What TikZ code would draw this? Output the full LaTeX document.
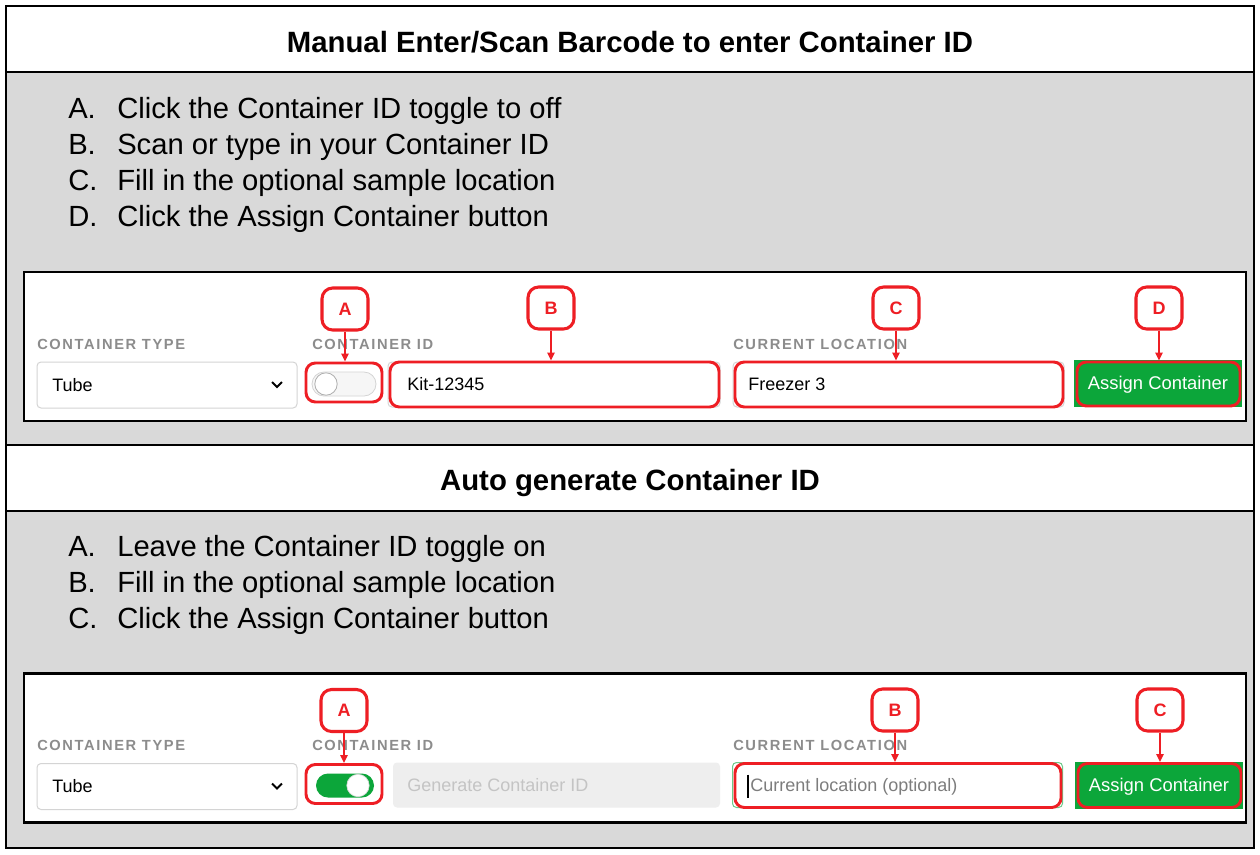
\documentclass[tikz,border=0pt]{standalone}
\usepackage{fontspec}
\setmainfont{Liberation Sans}
\usetikzlibrary{arrows.meta,fit}
\definecolor{secgray}{HTML}{D9D9D9}
\definecolor{hlred}{RGB}{238,30,36}
\definecolor{btngreen}{RGB}{12,166,58}
\definecolor{lblgray}{RGB}{140,140,140}
\definecolor{fieldline}{RGB}{212,212,212}
\definecolor{fieldfill}{RGB}{238,238,238}
\definecolor{phgray}{RGB}{196,196,196}
\definecolor{phtext}{RGB}{125,125,125}
\definecolor{toggleoff}{RGB}{246,246,246}
\begin{document}
\begin{tikzpicture}[x=0.75pt,y=-0.75pt,
  titletext/.style={font=\fontsize{22}{26}\selectfont\bfseries, anchor=base, inner sep=0},
  itemtext/.style={font=\fontsize{21.9}{26}\selectfont, anchor=base west, inner sep=0},
  lbltext/.style={font=\fontsize{11}{13}\selectfont\bfseries\addfontfeature{LetterSpace=11}, text=lblgray, anchor=base west, inner sep=0},
  fieldbox/.style={draw=fieldline, line width=0.75pt, rounded corners=3pt, fill=white, inner sep=0},
  ftext/.style={font=\fontsize{13.5}{16}\selectfont, anchor=base west, inner sep=0},
  hl/.style={draw=hlred, line width=2.2pt, rounded corners=7pt, inner sep=0},
  bub/.style={draw=hlred, line width=2.3pt, fill=white, rounded corners=8pt, minimum width=34.5pt, minimum height=31.5pt, inner sep=0, text=hlred, font=\fontsize{13.5}{16}\selectfont\bfseries},
  arr/.style={draw=hlred, line width=1.4pt, -{Triangle[length=6pt,width=5.5pt]}},
  btnbox/.style={fill=btngreen, minimum width=126pt, minimum height=35.25pt, inner sep=0},
  btntext/.style={text=white, font=\fontsize{13.8}{16}\selectfont, anchor=base, inner sep=0},
  shot/.style={draw=black, line width=1.6pt, fill=white}]
\useasboundingbox (0,0) rectangle (1260,854);
% sections
\fill[white] (6,6) rectangle (1254,72);
\fill[secgray] (6,72) rectangle (1254,445);
\fill[white] (6,445) rectangle (1254,511);
\fill[secgray] (6,511) rectangle (1254,848);
\draw[line width=1.6pt] (6,72) -- (1254,72) (6,445) -- (1254,445) (6,511) -- (1254,511);
\draw[line width=1.6pt] (6,6) rectangle (1254,848);
% titles
\node[titletext] (t1) at (630,52) {Manual Enter/Scan Barcode to enter Container ID};
\node[titletext] (t2) at (630,490) {Auto generate Container ID};
% list 1
\foreach \l/\t [count=\i] in {A/Click the Container ID toggle to off, B/Scan or type in your Container ID, C/Fill in the optional sample location, D/Click the Assign Container button}{
  \node[itemtext] (la\i) at (68,118+36*\i-36) {\l.};
  \node[itemtext] (ia\i) at (117,118+36*\i-36) {\t};
}
% list 2
\foreach \l/\t [count=\i] in {A/Leave the Container ID toggle on, B/Fill in the optional sample location, C/Click the Assign Container button}{
  \node[itemtext] (lb\i) at (68,556+36*\i-36) {\l.};
  \node[itemtext] (ib\i) at (117,556+36*\i-36) {\t};
}
% ===== screenshot 1 =====
\draw[shot] (24,272) rectangle (1246,421);
\node[lbltext] (ct1) at (37,349) {CONTAINER TYPE};
\node[lbltext] (ci1) at (312,349) {CONTAINER ID};
\node[lbltext] (cl1) at (733,349) {CURRENT LOCATION};
\node[fieldbox, minimum width=195pt, minimum height=34.5pt] (dd1) at (167,385) {};
\node[ftext] (tube1) at (52,391) {Tube};
\draw[line width=1.4pt] (272,382) -- (277,387) -- (282,382);
% toggle off
\draw[fill=toggleoff, draw=fieldline, line width=0.6pt, rounded corners=9pt] (312,372) rectangle (376,396);
\draw[fill=white, draw=lblgray!70, line width=0.6pt] (326,384) circle[radius=8.4pt];
\node[hl, fit={(306,363) (382,402)}] (hA1) {};
% field B
\node[fieldbox, minimum width=249pt, minimum height=33.75pt] (fb1) at (554,384.5) {};
\node[ftext] (kit) at (407,390) {Kit-12345};
\node[hl, fit={(390,362) (719,407)}] (hB1) {};
% field C
\node[fieldbox, minimum width=248.25pt, minimum height=33.75pt] (fc1) at (898.5,384.5) {};
\node[ftext] (frz) at (748,390) {Freezer 3};
\node[hl, fit={(735,362) (1063,407)}] (hC1) {};
% button
\node[btnbox] (btn1) at (1158,383.5) {};
\node[btntext] (bt1) at (1158,389.5) {Assign Container};
\node[hl, fit={(1077,362) (1240,406)}] (hD1) {};
% bubbles
\node[bub] (bA1) at (345,309) {A};
\node[bub] (bB1) at (551,308) {B};
\node[bub] (bC1) at (896,308) {C};
\node[bub] (bD1) at (1159,308) {D};
\draw[arr] (bA1.south) -- (bA1.south |- hA1.north);
\draw[arr] (bB1.south) -- (bB1.south |- hB1.north);
\draw[arr] (bC1.south) -- (bC1.south |- hC1.north);
\draw[arr] (bD1.south) -- (bD1.south |- hD1.north);
% ===== screenshot 2 =====
\begin{scope}[shift={(0,401.5)}]
\draw[shot] (24,272) rectangle (1246,421);
\node[lbltext] (ct2) at (37,349) {CONTAINER TYPE};
\node[lbltext] (ci2) at (312,349) {CONTAINER ID};
\node[lbltext] (cl2) at (733,349) {CURRENT LOCATION};
\node[fieldbox, minimum width=195pt, minimum height=34.5pt] (dd2) at (167,385) {};
\node[ftext] (tube2) at (52,391) {Tube};
\draw[line width=1.4pt] (272,382) -- (277,387) -- (282,382);
% toggle on
\fill[btngreen, rounded corners=9pt] (316,372) rectangle (374,396);
\draw[fill=white, draw=white!85!black, line width=0.5pt] (358,384) circle[radius=8.4pt];
\node[hl, fit={(306,363) (382,402)}] (hA2) {};
% generate field
\node[fill=fieldfill, rounded corners=3pt, minimum width=245.25pt, minimum height=33.75pt, inner sep=0] (fg2) at (556.5,383.5) {};
\node[ftext, text=phgray] (gen) at (407,390) {Generate Container ID};
% location field
\node[fieldbox, draw=btngreen!60, minimum width=247.5pt, minimum height=33.75pt] (fc2) at (897.5,383.5) {};
\node[ftext, text=phtext] (cur) at (750,390) {Current location (optional)};
\draw[line width=0.8pt] (748,373) -- (748,396);
\node[hl, fit={(735,362) (1061,406)}] (hB2) {};
% button
\node[btnbox] (btn2) at (1159,383.5) {};
\node[btntext] (bt2) at (1159,389.5) {Assign Container};
\node[hl, fit={(1078,362) (1241,406)}] (hC2) {};
% bubbles
\node[bub] (bA2) at (344,309) {A};
\node[bub] (bB2) at (895,308.5) {B};
\node[bub] (bC2) at (1160,308.5) {C};
\draw[arr] (bA2.south) -- (bA2.south |- hA2.north);
\draw[arr] (bB2.south) -- (bB2.south |- hB2.north);
\draw[arr] (bC2.south) -- (bC2.south |- hC2.north);
\end{scope}
\end{tikzpicture}
\end{document}
